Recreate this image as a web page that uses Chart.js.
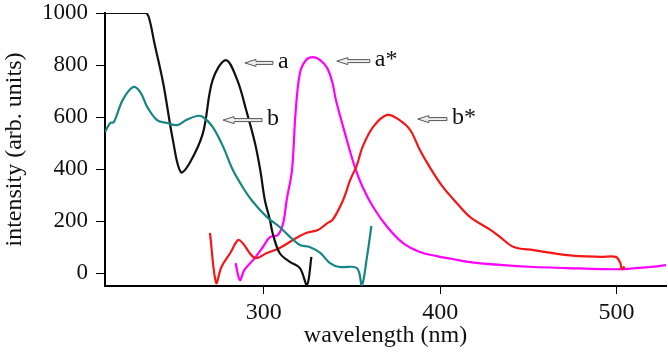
<!DOCTYPE html>
<html>
<head>
<meta charset="utf-8">
<script src="https://cdn.jsdelivr.net/npm/chart.js@4/dist/chart.umd.min.js"></script>
<style>
  html, body { margin: 0; padding: 0; background: #fff; }
  #wrap { width: 668px; height: 353px; position: relative; }
</style>
</head>
<body>
<div id="wrap"><canvas id="c" width="668" height="353"></canvas></div>
<script>
// ---- data ----
const xTicks = [300, 400, 500];
const yTicks = [0, 200, 400, 600, 800, 1000];

// curve a (black)
const aX = [210, 233, 235, 238, 243, 248.5, 253, 258, 265.5, 271, 278.5, 285, 290, 295, 298, 300.6, 303.5, 305, 309, 315, 320.5, 324.5, 327];
const aY = [1000, 1000, 980, 885, 730, 511, 388, 423, 538, 742, 819, 742, 627, 500, 396, 281, 204, 154, 77, 42, 19, -46, 62];

// curve b (teal)
const bX = [210, 213, 215, 220, 226, 230, 234, 239.5, 245, 251, 256, 262, 265.5, 271, 277, 282.5, 288, 293, 301.8, 309, 315, 320.5, 326, 332, 337.5, 343, 352.8, 355.6, 358.5, 361];
const bY = [542, 577, 580, 665, 715, 696, 638, 588, 577, 569, 588, 604, 600, 562, 485, 396, 331, 281, 215, 177, 138, 108, 100, 77, 38, 23, 19, -46, 62, 181];

// curve a* (magenta)
const asX = [284, 286.5, 289, 295, 299.5, 303.5, 308, 311, 313, 316, 318, 320.5, 324, 328, 332, 336, 339, 340.9, 346, 351.6, 356, 362, 370, 379, 388.5, 398, 407, 417, 434, 453, 472, 491, 504, 519, 528];
const asY = [38, -27, 12, 58, 100, 138, 146, 192, 281, 396, 615, 769, 819, 830, 819, 788, 730, 665, 538, 408, 331, 254, 177, 115, 81, 65, 54, 42, 31, 23, 19, 15, 15, 23, 30];

// curve b* (red)
const bsX = [269.5, 273, 276, 281, 285.5, 288, 295, 301.8, 309, 316.5, 324, 330.7, 336, 339, 345, 349, 352.8, 356, 362, 370, 377, 383, 388.5, 394, 401.5, 409.4, 417, 428.7, 434, 441.7, 453, 472, 491, 499.5, 502, 503, 504.5];
const bsY = [154, -38, 23, 77, 127, 115, 58, 77, 96, 127, 154, 165, 192, 204, 281, 358, 415, 485, 562, 608, 588, 550, 473, 408, 331, 269, 215, 165, 138, 100, 88, 69, 62, 62, 40, 15, 25];

// annotation labels (arrow tip x, arrow tail x, y, label)
const labelText = ['a', 'a*', 'b', 'b*'];
const labelTipX = [289.3, 341.4, 276.9, 387.3];
const labelTailX = [305.2, 360.1, 299, 403.8];
const labelY = [808, 815, 588, 592];

const pts = (xs, ys) => xs.map((x, i) => ({ x: x, y: ys[i] }));

const SERIF = "'Liberation Serif', 'Times New Roman', serif";

const arrowPlugin = {
  id: 'arrows',
  afterDatasetsDraw(chart) {
    const ctx = chart.ctx;
    const xs = chart.scales.x, ys = chart.scales.y;
    ctx.save();
    for (let i = 0; i < labelText.length; i++) {
      const tip = xs.getPixelForValue(labelTipX[i]);
      const tail = xs.getPixelForValue(labelTailX[i]);
      const y = ys.getPixelForValue(labelY[i]);
      const headLen = 11, headH = 3.5, shaftH = 1.5;
      ctx.beginPath();
      ctx.moveTo(tip, y);
      ctx.lineTo(tip + headLen, y - headH);
      ctx.lineTo(tip + headLen, y - shaftH);
      ctx.lineTo(tail, y - shaftH);
      ctx.lineTo(tail, y + shaftH);
      ctx.lineTo(tip + headLen, y + shaftH);
      ctx.lineTo(tip + headLen, y + headH);
      ctx.closePath();
      ctx.fillStyle = '#eeeeee';
      ctx.fill();
      ctx.strokeStyle = '#555';
      ctx.lineWidth = 1;
      ctx.stroke();
      ctx.fillStyle = '#111';
      ctx.font = '24px ' + SERIF;
      ctx.textBaseline = 'middle';
      ctx.textAlign = 'left';
      ctx.fillText(labelText[i], tail + 5, y - 1);
    }
    ctx.restore();
  }
};

const mk = (label, xs, ys, color) => ({
  label: label,
  data: pts(xs, ys),
  borderColor: color,
  borderWidth: 2.2,
  pointRadius: 0,
  fill: false,
  tension: 0.35
});

new Chart(document.getElementById('c'), {
  type: 'line',
  data: {
    datasets: [
      mk('b', bX, bY, '#178585'),
      mk('a', aX, aY, '#111111'),
      mk('b*', bsX, bsY, '#f51616'),
      mk('a*', asX, asY, '#ff00ff')
    ]
  },
  options: {
    responsive: false,
    animation: false,
    devicePixelRatio: 1,
    layout: { padding: { top: 13, right: 2, left: 0, bottom: 0 } },
    plugins: { legend: { display: false }, tooltip: { enabled: false } },
    scales: {
      x: {
        type: 'linear',
        min: 210,
        max: 528,
        afterBuildTicks: (ax) => { ax.ticks = xTicks.map(v => ({ value: v })); },
        afterFit: (ax) => { ax.height = 67; ax.paddingLeft = 0; ax.paddingRight = 0; },
        ticks: { color: '#111', font: { family: SERIF, size: 24 }, padding: 4, maxRotation: 0, callback: (v) => String(v) },
        grid: { drawOnChartArea: false, drawTicks: true, tickLength: 8, color: '#000', lineWidth: 1 },
        border: { display: true, color: '#000', width: 2 },
        title: { display: true, text: 'wavelength (nm)', color: '#111', font: { family: SERIF, size: 24 }, padding: { top: 0, bottom: 3 } }
      },
      y: {
        type: 'linear',
        min: -50,
        max: 1000,
        afterBuildTicks: (ax) => { ax.ticks = yTicks.map(v => ({ value: v })); },
        afterFit: (ax) => { ax.width = 105; ax.paddingTop = 0; ax.paddingBottom = 0; },
        ticks: { color: '#111', font: { family: SERIF, size: 23 }, padding: 8, callback: (v) => String(v) },
        grid: { drawOnChartArea: false, drawTicks: true, tickLength: 9, color: '#000', lineWidth: 1 },
        border: { display: true, color: '#000', width: 2 },
        title: { display: true, text: 'intensity (arb. units)', color: '#111', font: { family: SERIF, size: 24 }, padding: { top: 0, bottom: 0 } }
      }
    }
  },
  plugins: [arrowPlugin]
});
</script>
</body>
</html>
